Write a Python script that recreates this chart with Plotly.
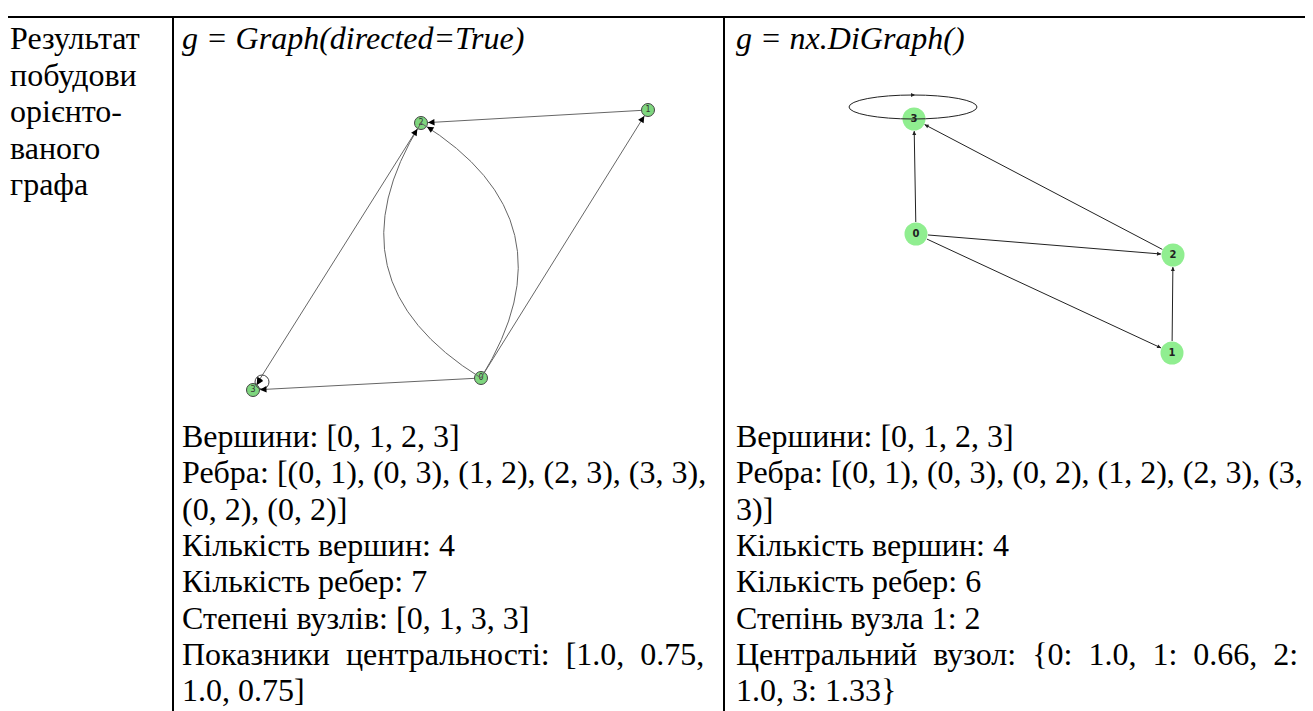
import math
import plotly.graph_objects as go

W, H = 1313, 711

# ---- тексти таблиці ----
row_label = ["Результат", "побудови", "орієнто-", "ваного", "графа"]
left_title = "g = Graph(directed=True)"
right_title = "g = nx.DiGraph()"
left_info = [
    "Вершини: [0, 1, 2, 3]",
    "Ребра: [(0, 1), (0, 3), (1, 2), (2, 3), (3, 3),",
    "(0, 2), (0, 2)]",
    "Кількість вершин: 4",
    "Кількість ребер: 7",
    "Степені вузлів: [0, 1, 3, 3]",
    "Показники\u00a0\u00a0центральності:\u00a0\u00a0[1.0,\u00a0\u00a00.75,",
    "1.0, 0.75]",
]
right_info = [
    "Вершини: [0, 1, 2, 3]",
    "Ребра: [(0, 1), (0, 3), (0, 2), (1, 2), (2, 3), (3,",
    "3)]",
    "Кількість вершин: 4",
    "Кількість ребер: 6",
    "Степінь вузла 1: 2",
    "Центральний\u00a0\u00a0вузол:\u00a0\u00a0{0:\u00a0\u00a01.0,\u00a0\u00a01:\u00a0\u00a00.66,\u00a0\u00a02:",
    "1.0, 3: 1.33}",
]

# ---- граф 1 (igraph) ----
g1_nodes = ["0", "1", "2", "3"]
g1_x = [481, 648, 421, 253]
g1_y = [378, 110, 123, 390]
g1_edges = [(0, 1), (0, 3), (1, 2), (2, 3), (3, 3), (0, 2), (0, 2)]

# ---- граф 2 (networkx) ----
g2_nodes = ["0", "1", "2", "3"]
g2_x = [916, 1172, 1173, 914]
g2_y = [234, 353, 255, 119]
g2_edges = [(0, 1), (0, 3), (0, 2), (1, 2), (2, 3), (3, 3)]

SERIF = "Liberation Serif"
FS = 32

fig = go.Figure()
shapes = []
annotations = []


def unit(x0, y0, x1, y1):
    d = math.hypot(x1 - x0, y1 - y0)
    return (x1 - x0) / d, (y1 - y0) / d


def arrow_head(xh, yh, ux, uy, color, size, length):
    # короткий відрізок, щоб бачити лише наконечник
    annotations.append(dict(
        x=xh, y=yh, ax=xh - ux * length, ay=yh - uy * length,
        xref="x", yref="y", axref="x", ayref="y",
        showarrow=True, arrowhead=2, arrowsize=size, arrowwidth=1,
        arrowcolor=color, text=""
    ))


# граф 1: ребра
r1 = 7
seen = {}
for a, b in g1_edges:
    if a == b:
        cx, cy = g1_x[a] + 9, g1_y[a] - 8
        shapes.append(dict(type="circle", xref="x", yref="y",
                           x0=cx - 7, x1=cx + 7, y0=cy - 7, y1=cy + 7,
                           line=dict(color="#444", width=1)))
        arrow_head(g1_x[a] + 4, g1_y[a] - 5, -0.5, 0.85, "black", 1.3, 5)
        continue
    k = seen.get((a, b), 0)
    seen[(a, b)] = k + 1
    n_multi = g1_edges.count((a, b))
    x0, y0, x1, y1 = g1_x[a], g1_y[a], g1_x[b], g1_y[b]
    ux, uy = unit(x0, y0, x1, y1)
    if n_multi > 1:
        sign = -1 if k == 0 else 1
        mx, my = (x0 + x1) / 2, (y0 + y1) / 2
        px, py = -uy, ux
        off = 0.5 * math.hypot(x1 - x0, y1 - y0) * sign
        cx, cy = mx + px * off, my + py * off
        shapes.append(dict(type="path", xref="x", yref="y",
                           path=f"M {x0},{y0} Q {cx},{cy} {x1},{y1}",
                           line=dict(color="#666", width=1)))
        tx, ty = unit(cx, cy, x1, y1)
        arrow_head(x1 - tx * r1, y1 - ty * r1, tx, ty, "black", 1.3, 6)
    else:
        fig.add_trace(go.Scatter(
            x=[x0 + ux * r1, x1 - ux * r1], y=[y0 + uy * r1, y1 - uy * r1],
            mode="lines", line=dict(color="#666", width=1),
            hoverinfo="skip", showlegend=False))
        arrow_head(x1 - ux * r1, y1 - uy * r1, ux, uy, "black", 1.3, 6)

fig.add_trace(go.Scatter(
    x=g1_x, y=g1_y, mode="markers+text", text=g1_nodes,
    textfont=dict(size=8, color="#333", family="DejaVu Sans"),
    marker=dict(size=13, color="#7ed67e", line=dict(color="#444", width=1)),
    hoverinfo="text", showlegend=False))

# граф 2: ребра
r2 = 12
for a, b in g2_edges:
    if a == b:
        cx, cy = g2_x[a] - 1, g2_y[a] - 12
        shapes.append(dict(type="circle", xref="x", yref="y",
                           x0=cx - 64, x1=cx + 64, y0=cy - 12, y1=cy + 12,
                           line=dict(color="#222", width=1)))
        arrow_head(cx + 2, cy - 12, 1, 0, "#222", 0.8, 5)
        continue
    x0, y0, x1, y1 = g2_x[a], g2_y[a], g2_x[b], g2_y[b]
    ux, uy = unit(x0, y0, x1, y1)
    fig.add_trace(go.Scatter(
        x=[x0 + ux * r2, x1 - ux * r2], y=[y0 + uy * r2, y1 - uy * r2],
        mode="lines", line=dict(color="#222", width=1),
        hoverinfo="skip", showlegend=False))
    arrow_head(x1 - ux * r2, y1 - uy * r2, ux, uy, "#222", 0.8, 5)

fig.add_trace(go.Scatter(
    x=g2_x, y=g2_y, mode="markers+text", text=[f"<b>{n}</b>" for n in g2_nodes],
    textfont=dict(size=10, color="#222", family="DejaVu Sans"),
    marker=dict(size=23, color="#90ee90"),
    hoverinfo="text", showlegend=False))

# рамка таблиці
for x in [5, 173, 724, 1311]:
    shapes.append(dict(type="line", xref="x", yref="y", x0=x, x1=x, y0=17, y1=H,
                       line=dict(color="black", width=2)))
shapes.append(dict(type="line", xref="x", yref="y", x0=5, x1=1311, y0=17, y1=17,
                   line=dict(color="black", width=2)))


def add_text(x, y, s, italic=False):
    annotations.append(dict(
        x=x, y=y, xref="x", yref="y", text=f"<i>{s}</i>" if italic else s,
        showarrow=False, xanchor="left", yanchor="middle",
        font=dict(family=SERIF, size=FS, color="black")))


for i, s in enumerate(row_label):
    add_text(8, 38 + 36.5 * i, s)
add_text(180, 38, left_title, italic=True)
add_text(734, 38, right_title, italic=True)
for i, s in enumerate(left_info):
    add_text(180, 436 + 36.3 * i, s)
for i, s in enumerate(right_info):
    add_text(734, 436 + 36.3 * i, s)

# сторінка має відступ 8 px, тому діапазони зсунуті на 8
fig.update_layout(
    width=W - 8, height=H - 8,
    margin=dict(l=0, r=0, t=0, b=0),
    plot_bgcolor="white", paper_bgcolor="white",
    font=dict(family=SERIF),
    xaxis=dict(range=[8, W], visible=False, fixedrange=True),
    yaxis=dict(range=[H, 8], visible=False, fixedrange=True),
    shapes=shapes, annotations=annotations,
    showlegend=False,
)

fig.write_html("out.html")
